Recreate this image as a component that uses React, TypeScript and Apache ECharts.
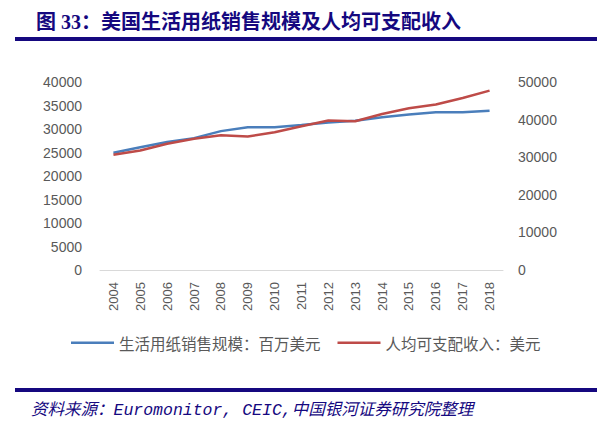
import { useEffect, useRef } from 'react';
import * as echarts from 'echarts';

const years = ['2004', '2005', '2006', '2007', '2008', '2009', '2010', '2011', '2012', '2013', '2014', '2015', '2016', '2017', '2018'];

// 生活用纸销售规模：百万美元 (left axis)
const tissueSales = [24950, 26100, 27250, 28050, 29550, 30350, 30350, 30850, 31400, 31750, 32500, 33100, 33550, 33550, 33900];

// 人均可支配收入：美元 (right axis)
const disposableIncome = [30650, 31800, 33600, 34900, 35850, 35500, 36650, 38250, 39750, 39550, 41500, 43000, 44000, 45750, 47700];

const seriesNames = ['生活用纸销售规模：百万美元', '人均可支配收入：美元'];

const navy = '#15087f';
const labelGray = '#595959';

export default function App() {
  const chartRef = useRef<HTMLDivElement>(null);

  useEffect(() => {
    document.body.style.margin = '0';
    if (!chartRef.current) return;

    const chart = echarts.init(chartRef.current, undefined, { renderer: 'svg' });

    const plain = (v: number) => String(v);

    const option: echarts.EChartsOption = {
      animation: false,
      backgroundColor: '#ffffff',
      title: {
        text: '图 33：美国生活用纸销售规模及人均可支配收入',
        left: 31,
        top: 7,
        textStyle: {
          fontSize: 20,
          fontWeight: 'bold',
          color: navy,
          fontFamily: '"Liberation Serif", "Noto Sans CJK SC", serif',
        },
      },
      graphic: [
        { type: 'rect', shape: { x: 15, y: 37, width: 582, height: 4 }, style: { fill: navy } },
        { type: 'rect', shape: { x: 15, y: 388, width: 582, height: 4 }, style: { fill: navy } },
        {
          type: 'text',
          x: 31,
          y: 410,
          style: {
            text: '资料来源：Euromonitor, CEIC,中国银河证券研究院整理',
            fill: navy,
            fontSize: 16.5,
            fontStyle: 'italic',
            fontFamily: '"Liberation Mono", "Noto Sans CJK SC", monospace',
            verticalAlign: 'middle',
          },
        },
      ],
      legend: {
        left: 71,
        top: 335,
        padding: 0,
        icon: 'rect',
        itemWidth: 43,
        itemHeight: 2.5,
        itemGap: 17,
        textStyle: {
          fontSize: 15.5,
          color: labelGray,
          fontFamily: '"Noto Sans CJK SC", sans-serif',
        },
        data: seriesNames,
      },
      grid: {
        left: 100,
        right: 94,
        top: 82,
        bottom: 162,
      },
      xAxis: {
        type: 'category',
        data: years,
        boundaryGap: true,
        axisLine: { lineStyle: { color: '#d9d9d9', width: 1 } },
        axisTick: { show: false },
        axisLabel: {
          rotate: 90,
          margin: 12,
          fontSize: 13,
          color: labelGray,
          fontFamily: '"Liberation Sans", Arial, sans-serif',
        },
      },
      yAxis: [
        {
          type: 'value',
          min: 0,
          max: 40000,
          interval: 5000,
          axisLine: { show: false },
          axisTick: { show: false },
          splitLine: { show: false },
          axisLabel: {
            margin: 18,
            fontSize: 14,
            color: labelGray,
            formatter: plain,
            fontFamily: '"Liberation Sans", Arial, sans-serif',
          },
        },
        {
          type: 'value',
          min: 0,
          max: 50000,
          interval: 10000,
          axisLine: { show: false },
          axisTick: { show: false },
          splitLine: { show: false },
          axisLabel: {
            margin: 15,
            fontSize: 14,
            color: labelGray,
            formatter: plain,
            fontFamily: '"Liberation Sans", Arial, sans-serif',
          },
        },
      ],
      series: [
        {
          name: seriesNames[0],
          type: 'line',
          yAxisIndex: 0,
          data: tissueSales,
          symbol: 'none',
          lineStyle: { color: '#4a7ebb', width: 2.5 },
          itemStyle: { color: '#4a7ebb' },
        },
        {
          name: seriesNames[1],
          type: 'line',
          yAxisIndex: 1,
          data: disposableIncome,
          symbol: 'none',
          lineStyle: { color: '#be4b48', width: 2.5 },
          itemStyle: { color: '#be4b48' },
        },
      ],
    };

    chart.setOption(option);

    return () => {
      chart.dispose();
    };
  }, []);

  return <div ref={chartRef} style={{ width: 597, height: 432 }} />;
}
